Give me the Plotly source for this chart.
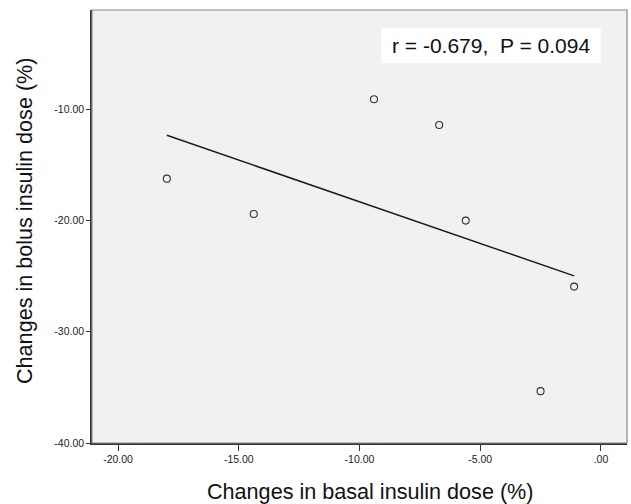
import numpy as np
import plotly.graph_objects as go

# Data
basal_change = [-17.98, -14.38, -9.40, -6.70, -5.60, -1.11, -2.50]
bolus_change = [-16.24, -19.41, -9.10, -11.41, -20.01, -25.94, -35.34]

x_tick_vals = [-20, -15, -10, -5, 0]
x_tick_text = ["-20.00", "-15.00", "-10.00", "-5.00", ".00"]
y_tick_vals = [-40, -30, -20, -10]
y_tick_text = ["-40.00", "-30.00", "-20.00", "-10.00"]

stat_label = "r = -0.679,  P = 0.094"
x_title = "Changes in basal insulin dose (%)"
y_title = "Changes in bolus insulin dose (%)"

# Linear fit line over the data range
slope, intercept = np.polyfit(basal_change, bolus_change, 1)
fit_x = [min(basal_change), max(basal_change)]
fit_y = [slope * v + intercept for v in fit_x]

fig = go.Figure()
fig.add_trace(go.Scatter(
    x=fit_x, y=fit_y, mode="lines",
    line=dict(color="#1a1a1a", width=1.5),
    showlegend=False, hoverinfo="skip",
))
fig.add_trace(go.Scatter(
    x=basal_change, y=bolus_change, mode="markers",
    marker=dict(symbol="circle-open", size=7, color="#333333",
                line=dict(width=1.1, color="#333333")),
    showlegend=False,
))

font_main = "Liberation Sans, Arial, sans-serif"

fig.update_layout(
    width=631, height=504,
    margin=dict(l=92, r=4, t=10, b=61),
    paper_bgcolor="white",
    plot_bgcolor="#f0f1f0",
    font=dict(family=font_main, color="#222222", size=10),
    xaxis=dict(
        range=[-21.08, 1.08], tickvals=x_tick_vals, ticktext=x_tick_text,
        showgrid=False, zeroline=False,
        showline=True, linecolor="#333333", linewidth=1.5,
        ticks="outside", ticklen=6, tickcolor="#333333", tickwidth=1.2,
        tickfont=dict(size=10.5, family=font_main, color="#222222"),
    ),
    yaxis=dict(
        range=[-40, -1.08], tickvals=y_tick_vals, ticktext=y_tick_text,
        showgrid=False, zeroline=False,
        showline=True, linecolor="#333333", linewidth=1.5,
        ticks="outside", ticklen=4, tickcolor="#333333", tickwidth=1.2,
        tickfont=dict(size=10.5, family=font_main, color="#222222"),
    ),
    shapes=[
        dict(type="rect", xref="paper", yref="paper", x0=0, x1=1, y0=0, y1=1,
             line=dict(color="#8a8a8a", width=1.2), fillcolor="rgba(0,0,0,0)",
             layer="above"),
        dict(type="rect", xref="paper", yref="paper", x0=0.540, x1=0.951,
             y0=0.877, y1=0.958, line=dict(width=0), fillcolor="white",
             layer="below"),
    ],
    annotations=[
        dict(text=stat_label, xref="paper", yref="paper", x=0.745, y=0.917,
             xanchor="center", yanchor="middle", showarrow=False,
             font=dict(size=21, family=font_main, color="#111111")),
        dict(text=x_title, xref="paper", yref="paper", x=0.520, y=-0.111,
             xanchor="center", yanchor="middle", showarrow=False,
             font=dict(size=21.6, family=font_main, color="#111111")),
        dict(text=y_title, xref="paper", yref="paper", x=-0.125, y=0.513,
             xanchor="center", yanchor="middle", showarrow=False, textangle=-90,
             font=dict(size=21.6, family=font_main, color="#111111")),
    ],
)

fig.write_html("out.html")
